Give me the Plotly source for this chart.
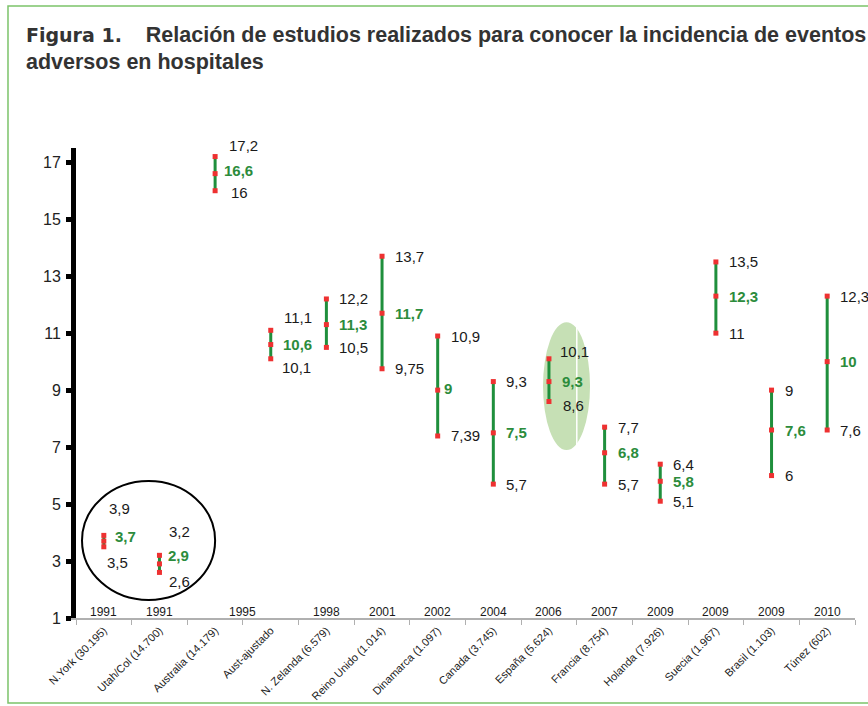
import plotly.graph_objects as go

categories = ["N.York (30.195)", "Utah/Col (14.700)", "Australia (14.179)", "Aust-ajustado",
              "N. Zelanda (6.579)", "Reino Unido (1.014)", "Dinamarca (1.097)", "Canada (3.745)",
              "España (5.624)", "Francia (8.754)", "Holanda (7.926)", "Suecia (1.967)",
              "Brasil (1.103)", "Túnez (602)"]
low_vals = [3.5, 2.6, 16, 10.1, 10.5, 9.75, 7.39, 5.7, 8.6, 5.7, 5.1, 11, 6, 7.6]
mid_vals = [3.7, 2.9, 16.6, 10.6, 11.3, 11.7, 9, 7.5, 9.3, 6.8, 5.8, 12.3, 7.6, 10]
high_vals = [3.9, 3.2, 17.2, 11.1, 12.2, 13.7, 10.9, 9.3, 10.1, 7.7, 6.4, 13.5, 9, 12.3]
low_text = ["3,5", "2,6", "16", "10,1", "10,5", "9,75", "7,39", "5,7", "8,6", "5,7", "5,1", "11", "6", "7,6"]
mid_text = ["3,7", "2,9", "16,6", "10,6", "11,3", "11,7", "9", "7,5", "9,3", "6,8", "5,8", "12,3", "7,6", "10"]
high_text = ["3,9", "3,2", "17,2", "11,1", "12,2", "13,7", "10,9", "9,3", "10,1", "7,7", "6,4", "13,5", "9", "12,3"]
year_pos = [0, 1, 2.5, 4, 5, 6, 7, 8, 9, 10, 11, 12, 13]
year_text = ["1991", "1991", "1995", "1998", "2001", "2002", "2004", "2006", "2007", "2009", "2009", "2009", "2010"]
y_ticks = [1, 3, 5, 7, 9, 11, 13, 15, 17]

RED = "#ee3131"
GREEN_LINE = "#1f8f3c"
GREEN_TEXT = "#2c8c3c"
TXT = "#1a1a1a"

# label offsets in px: (xshift, yshift) per (category index, kind)
offsets = {
    (0, "h"): (3, 27), (0, "m"): (9, 5), (0, "l"): (1, -16),
    (1, "h"): (8, 24), (1, "m"): (7, 8), (1, "l"): (8, -9),
    (2, "h"): (12, 11), (2, "m"): (7, 3), (2, "l"): (14, -2),
    (3, "h"): (11, 13), (3, "m"): (10, 0), (3, "l"): (9, -9),
    (6, "m"): (4, 2),
    (8, "h"): (9, 7), (8, "m"): (11, 0), (8, "l"): (12, -4),
}

fig = go.Figure()

for i, c in enumerate(categories):
    fig.add_trace(go.Scatter(x=[c, c], y=[low_vals[i], high_vals[i]], mode="lines",
                             line=dict(color=GREEN_LINE, width=3), hoverinfo="skip",
                             showlegend=False))
xs, ys = [], []
for i, c in enumerate(categories):
    xs += [c, c, c]
    ys += [low_vals[i], mid_vals[i], high_vals[i]]
fig.add_trace(go.Scatter(x=xs, y=ys, mode="markers",
                         marker=dict(symbol="square", size=5, color=RED, line=dict(width=0)),
                         showlegend=False))

annotations = []
for i, c in enumerate(categories):
    for kind, val, txt, col, bold in (("h", high_vals[i], high_text[i], TXT, False),
                                      ("m", mid_vals[i], mid_text[i], GREEN_TEXT, True),
                                      ("l", low_vals[i], low_text[i], TXT, False)):
        dx, dy = offsets.get((i, kind), (11, 0))
        annotations.append(dict(x=i, y=val, xref="x", yref="y", text=("<b>%s</b>" % txt) if bold else txt,
                                showarrow=False, xanchor="left", yanchor="middle",
                                xshift=dx, yshift=dy,
                                font=dict(family="Liberation Sans, Arial", size=15, color=col)))
for p, t in zip(year_pos, year_text):
    annotations.append(dict(x=p, y=1, xref="x", yref="y", text=t, showarrow=False,
                            yanchor="bottom", yshift=-3,
                            font=dict(family="Liberation Sans, Arial", size=12, color=TXT)))

annotations.append(dict(x=-0.0668, y=1.2404, xref="paper", yref="paper", xanchor="left", yanchor="middle",
                        showarrow=False,
                        text="<span style='font-family:DejaVu Sans;font-size:19px'><b>Figura 1.</b></span>"
                             "&nbsp;&nbsp;&nbsp;&nbsp;<b>Relación de estudios realizados para conocer la incidencia de eventos</b>",
                        font=dict(family="Liberation Sans, Arial", size=21.5, color="#333333")))
annotations.append(dict(x=-0.0668, y=1.183, xref="paper", yref="paper", xanchor="left", yanchor="middle",
                        showarrow=False, text="<b>adversos en hospitales</b>",
                        font=dict(family="Liberation Sans, Arial", size=21.5, color="#333333")))

shapes = [
    dict(type="rect", xref="paper", yref="paper", x0=-0.0873, x1=1.03, y0=-0.181, y1=1.302,
         line=dict(color="#7cc36a", width=1.5), layer="below"),
    dict(type="circle", xref="x", yref="y", x0=7.893, x1=8.738, y0=6.895, y1=11.386,
         fillcolor="#c6e0b5", line=dict(width=0), layer="below"),
    dict(type="line", xref="x", yref="y", x0=8.50, x1=8.50, y0=6.98, y1=11.30,
         line=dict(color="white", width=1.5), layer="below"),
    dict(type="circle", xref="x", yref="y", x0=-0.392, x1=2.0, y0=1.63, y1=5.81,
         line=dict(color="black", width=2)),
]

fig.update_layout(
    width=868, height=706,
    margin=dict(l=76, r=13, t=148, b=88, autoexpand=False),
    paper_bgcolor="white", plot_bgcolor="white",
    showlegend=False,
    annotations=annotations, shapes=shapes,
    xaxis=dict(type="category", categoryorder="array", categoryarray=categories,
               range=[-0.5, 13.5], tickson="boundaries", ticks="outside", ticklen=5,
               tickcolor="#b0b0b0", tickwidth=1, showline=True, linecolor="#b0b0b0", linewidth=1.5,
               showgrid=False, zeroline=False, tickangle=-45, automargin=False,
               tickfont=dict(family="Liberation Sans, Arial", size=11, color="#222")),
    yaxis=dict(range=[1, 17.5], tickvals=y_ticks, ticks="outside", ticklen=5, tickwidth=5,
               tickcolor="black", showline=True, linecolor="black", linewidth=5,
               showgrid=False, zeroline=False, ticklabelstandoff=2, automargin=False,
               tickfont=dict(family="Liberation Sans, Arial", size=16, color="#222")),
)

fig.write_html("out.html", config={"displayModeBar": False},
               post_script="document.body.style.margin='0';document.body.style.overflow='hidden';")
